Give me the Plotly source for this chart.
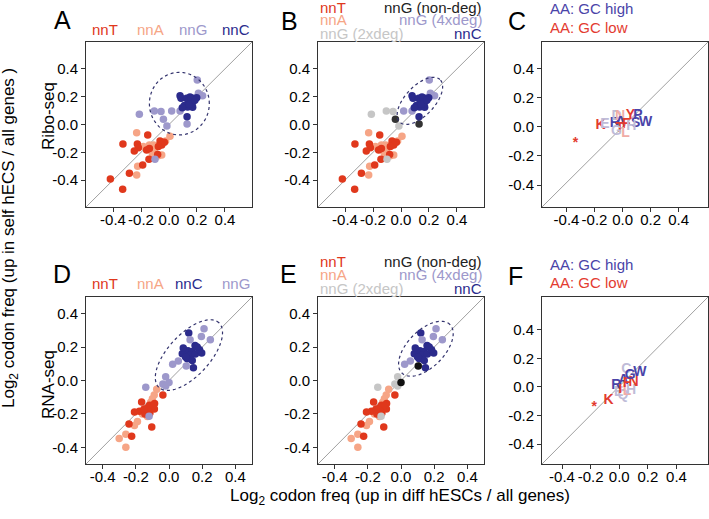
import numpy as np
import plotly.graph_objects as go

W, H = 709, 519
FONT = "Liberation Sans, Arial, Helvetica, sans-serif"

# ---------------- colours ----------------
C_T = "#e0381c"
C_A = "#f6a586"
C_G = "#9d98cb"
C_C = "#2b2b8c"
C_ND = "#333333"
C_2X = "#c6c6c6"
C_HIGH = "#4a44a8"
C_LOW = "#e33b30"
C_HIGH_L = "#bfbcd8"
C_LOW_L = "#f0aca6"

# ---------------- Ribo-seq data (panels A, B) ----------------
ribo_nnT_x = [-0.152, -0.329, -0.226, -0.219, -0.248, -0.160, -0.140, -0.064, -0.033, -0.052, -0.076, -0.081, -0.143, -0.188, -0.283, -0.419, -0.331]
ribo_nnT_y = [-0.076, -0.140, -0.140, -0.167, -0.190, -0.183, -0.172, -0.119, -0.128, -0.147, -0.159, -0.215, -0.250, -0.291, -0.351, -0.392, -0.466]
ribo_nnA_x = [-0.231, 0.007, -0.140, -0.110, -0.086, -0.183, -0.119, -0.105, -0.076, -0.052, -0.224, -0.231, -0.024]
ribo_nnA_y = [-0.060, -0.084, -0.147, -0.147, -0.152, -0.159, -0.207, -0.190, -0.224, -0.219, -0.300, -0.363, -0.119]
ribo_nnG4_x = [0.202, 0.210, 0.240, 0.019, 0.079]
ribo_nnG4_y = [0.320, 0.224, 0.207, 0.097, 0.097]
ribo_nnGnd_x = [-0.040, 0.129]
ribo_nnGnd_y = [0.037, 0.004]
ribo_nnG2_x = [-0.212, -0.105, -0.057, -0.015, -0.100]
ribo_nnG2_y = [0.073, 0.097, 0.093, -0.010, -0.250]
ribo_nnC_x = [0.079, 0.086, 0.126, 0.150, 0.174, 0.198, 0.138, 0.169, 0.110, 0.133, 0.169, 0.095, 0.129, 0.157, 0.145, 0.185]
ribo_nnC_y = [0.207, 0.188, 0.188, 0.198, 0.188, 0.193, 0.164, 0.160, 0.136, 0.126, 0.124, 0.120, 0.056, 0.183, 0.145, 0.175]

# ---------------- RNA-seq data (panels D, E) ----------------
rna_nnT_x = [-0.037, -0.165, -0.087, -0.117, -0.178, -0.208, -0.135, -0.115, -0.088, -0.145, -0.125, -0.241, -0.104, -0.225, -0.095, -0.150]
rna_nnT_y = [-0.087, -0.128, -0.138, -0.148, -0.184, -0.188, -0.180, -0.195, -0.170, -0.200, -0.160, -0.260, -0.278, -0.334, -0.150, -0.170]
rna_nnA_x = [-0.074, -0.089, -0.300, -0.260, -0.260, -0.190, -0.208, -0.160, -0.130, -0.110, -0.140, -0.100]
rna_nnA_y = [-0.053, -0.087, -0.348, -0.322, -0.400, -0.245, -0.270, -0.200, -0.215, -0.130, -0.170, -0.110]
rna_nnG4_x = [0.211, 0.195, 0.249, 0.127, 0.056, 0.022]
rna_nnG4_y = [0.310, 0.264, 0.244, 0.244, 0.117, 0.097]
rna_nnGnd_x = [0.104, 0.000]
rna_nnGnd_y = [0.087, -0.012]
rna_nnG2_x = [-0.020, -0.037, -0.020, -0.140, -0.120]
rna_nnG2_y = [0.023, -0.021, -0.033, -0.041, -0.214]
rna_nnC_x = [0.119, 0.157, 0.096, 0.080, 0.114, 0.139, 0.129, 0.159, 0.184, 0.197, 0.110, 0.140, 0.100, 0.147, 0.086, 0.170]
rna_nnC_y = [0.284, 0.210, 0.174, 0.160, 0.178, 0.174, 0.154, 0.158, 0.184, 0.164, 0.130, 0.120, 0.140, 0.077, 0.194, 0.200]

# ---------------- amino-acid data (panels C, F) ----------------
ribo_aa = ["*", "K", "E", "R", "D", "N", "A", "T", "F", "Y", "P", "S", "W", "G", "L", "H"]
ribo_aa_x = [-0.336, -0.157, -0.126, -0.055, -0.043, -0.018, -0.014, -0.019, 0.026, 0.057, 0.109, 0.093, 0.164, -0.043, 0.021, 0.062]
ribo_aa_y = [-0.114, 0.005, 0.012, 0.023, 0.073, 0.073, 0.027, -0.011, 0.012, 0.080, 0.080, 0.023, 0.027, -0.034, -0.050, 0.000]
ribo_aa_grp = ["low", "low", "high_l", "high", "high_l", "low_l", "high", "low", "low", "low", "high", "high", "high", "high_l", "low_l", "high_l"]

rna_aa = ["*", "K", "E", "Q", "L", "H", "R", "I", "A", "F", "N", "C", "G", "W"]
rna_aa_x = [-0.175, -0.075, -0.005, 0.026, 0.054, 0.082, -0.021, 0.007, 0.030, 0.054, 0.100, 0.049, 0.077, 0.143]
rna_aa_y = [-0.144, -0.093, -0.042, -0.058, -0.035, -0.023, 0.012, -0.018, 0.047, 0.024, 0.028, 0.122, 0.082, 0.098]
rna_aa_grp = ["low", "low", "high_l", "high_l", "low_l", "high_l", "high", "low", "high", "low", "low", "high_l", "high", "high"]

GRP_COL = {"high": C_HIGH, "low": C_LOW, "high_l": C_HIGH_L, "low_l": C_LOW_L}

TICKS = [-0.4, -0.2, 0.0, 0.2, 0.4]
TICKTEXT = ["-0.4", "-0.2", "0.0", "0.2", "0.4"]

# ---------------- layout geometry (pixels) ----------------
boxes = {
    1: (86, 252, 42, 207), 2: (318, 484, 42, 207), 3: (542, 708, 42, 207),
    4: (86, 252, 297, 464), 5: (318, 484, 297, 464), 6: (542, 708, 297, 464),
}
ranges = {
    1: ([-0.593, 0.593], [-0.593, 0.593]),
    2: ([-0.593, 0.593], [-0.593, 0.593]),
    3: ([-0.575, 0.61], [-0.55, 0.58]),
    4: ([-0.5, 0.5], [-0.5, 0.5]),
    5: ([-0.5, 0.5], [-0.5, 0.5]),
    6: ([-0.54, 0.62], [-0.54, 0.63]),
}


def fx(p):
    return p / W


def fy(p):
    return 1 - p / H


fig = go.Figure()
layout = dict(width=W, height=H, margin=dict(l=0, r=0, t=0, b=0),
              paper_bgcolor="white", plot_bgcolor="white", showlegend=False,
              hovermode=False,
              font=dict(family=FONT, color="black"))
shapes = []
annotations = []

for k, (x0, x1, y0, y1) in boxes.items():
    sfx = "" if k == 1 else str(k)
    common = dict(showline=True, mirror=True, linecolor="#333333", linewidth=1,
                  ticks="outside", ticklen=4, tickcolor="#333333", tickwidth=1,
                  tickvals=TICKS, ticktext=TICKTEXT, showgrid=False, zeroline=False,
                  tickangle=0,
                  tickfont=dict(size=15, family=FONT, color="black"), fixedrange=True)
    layout["xaxis" + sfx] = dict(domain=[fx(x0), fx(x1)], range=ranges[k][0],
                                 anchor="y" + sfx, ticklabelstandoff=-5, **common)
    layout["yaxis" + sfx] = dict(domain=[fy(y1), fy(y0)], range=ranges[k][1],
                                 anchor="x" + sfx, **common)
    xr, yr = ranges[k]
    shapes.append(dict(type="line", xref="x" + sfx, yref="y" + sfx,
                       x0=xr[0], y0=yr[0], x1=xr[1], y1=yr[1],
                       line=dict(color="#a0a0a0", width=1), layer="below"))


def dots(xs, ys, color, k):
    sfx = "" if k == 1 else str(k)
    fig.add_trace(go.Scatter(x=xs, y=ys, mode="markers", xaxis="x" + sfx, yaxis="y" + sfx,
                             marker=dict(size=7.5, color=color, line=dict(width=0)),
                             hoverinfo="skip"))


# Panel A
dots(ribo_nnA_x, ribo_nnA_y, C_A, 1)
dots(ribo_nnT_x, ribo_nnT_y, C_T, 1)
dots(ribo_nnG4_x + ribo_nnGnd_x + ribo_nnG2_x, ribo_nnG4_y + ribo_nnGnd_y + ribo_nnG2_y, C_G, 1)
dots(ribo_nnC_x, ribo_nnC_y, C_C, 1)
# Panel B
dots(ribo_nnA_x, ribo_nnA_y, C_A, 2)
dots(ribo_nnT_x, ribo_nnT_y, C_T, 2)
dots(ribo_nnG2_x, ribo_nnG2_y, C_2X, 2)
dots(ribo_nnG4_x, ribo_nnG4_y, C_G, 2)
dots(ribo_nnGnd_x, ribo_nnGnd_y, C_ND, 2)
dots(ribo_nnC_x, ribo_nnC_y, C_C, 2)
# Panel D
dots(rna_nnA_x, rna_nnA_y, C_A, 4)
dots(rna_nnT_x, rna_nnT_y, C_T, 4)
dots(rna_nnC_x, rna_nnC_y, C_C, 4)
dots(rna_nnG4_x + rna_nnGnd_x + rna_nnG2_x, rna_nnG4_y + rna_nnGnd_y + rna_nnG2_y, C_G, 4)
# Panel E
dots(rna_nnA_x, rna_nnA_y, C_A, 5)
dots(rna_nnT_x, rna_nnT_y, C_T, 5)
dots(rna_nnG2_x, rna_nnG2_y, C_2X, 5)
dots(rna_nnC_x, rna_nnC_y, C_C, 5)
dots(rna_nnG4_x, rna_nnG4_y, C_G, 5)
dots(rna_nnGnd_x, rna_nnGnd_y, "#111111", 5)


def letters(labels, xs, ys, grps, k):
    sfx = str(k)
    fig.add_trace(go.Scatter(x=xs, y=ys, mode="text", text=labels, xaxis="x" + sfx, yaxis="y" + sfx,
                             textposition="middle center",
                             textfont=dict(size=14, family=FONT, weight="bold",
                                           color=[GRP_COL[g] for g in grps]),
                             hoverinfo="skip"))


letters(ribo_aa, ribo_aa_x, ribo_aa_y, ribo_aa_grp, 3)
letters(rna_aa, rna_aa_x, rna_aa_y, rna_aa_grp, 6)


# ellipses (dotted outlines)
def ellipse_path(cx, cy, a, b, ang_deg, n=80):
    t = np.linspace(0, 2 * np.pi, n)
    th = np.deg2rad(ang_deg)
    xs = cx + a * np.cos(t) * np.cos(th) - b * np.sin(t) * np.sin(th)
    ys = cy + a * np.cos(t) * np.sin(th) + b * np.sin(t) * np.cos(th)
    return "M " + " L ".join(f"{x:.4f},{y:.4f}" for x, y in zip(xs, ys)) + " Z"


ELL = dict(color="#34346e", width=1.2, dash="dot")
shapes.append(dict(type="path", xref="x", yref="y", path=ellipse_path(0.074, 0.15, 0.214, 0.225, 0), line=ELL))
shapes.append(dict(type="path", xref="x2", yref="y2", path=ellipse_path(0.135, 0.17, 0.21, 0.105, 47), line=ELL))
shapes.append(dict(type="path", xref="x4", yref="y4", path=ellipse_path(0.12, 0.152, 0.265, 0.125, 47), line=ELL))
shapes.append(dict(type="path", xref="x5", yref="y5", path=ellipse_path(0.15, 0.19, 0.205, 0.11, 45), line=ELL))


def ann(text, xp, yp, size, color="black", xanchor="center", angle=0):
    annotations.append(dict(text=text, x=fx(xp), y=fy(yp), xref="paper", yref="paper",
                            showarrow=False, xanchor=xanchor, yanchor="middle",
                            textangle=angle, font=dict(size=size, color=color, family=FONT)))


# panel letters
for lab, xp, yp in [("A", 62, 20), ("B", 289, 20.5), ("C", 516.7, 21),
                    ("D", 62, 274), ("E", 288.3, 274), ("F", 515, 275.5)]:
    ann(lab, xp, yp, 25)

# legends A and D
for lab, col, xp in [("nnT", C_T, 105), ("nnA", C_A, 150), ("nnG", C_G, 192.5), ("nnC", C_C, 236)]:
    ann(lab, xp, 30, 15, col)
for lab, col, xp in [("nnT", C_T, 105), ("nnA", C_A, 150), ("nnC", C_C, 189.5), ("nnG", C_G, 236)]:
    ann(lab, xp, 283, 15, col)

# legends B and E
for base in (0, 255):
    top = 7 if base == 0 else 6 + base
    ann("nnT", 318, top, 15, C_T, "left")
    ann("nnA", 318, 19.7 + base, 15, C_A, "left")
    ann("nnG (2xdeg)", 318, 33.3 + base, 15, C_2X, "left")
    ann("nnG (non-deg)", 484, top, 15, "#222222", "right")
    ann("nnG (4xdeg)", 484, 19.7 + base, 15, C_G, "right")
    ann("nnC", 484, 33.3 + base, 15, C_C, "right")

# legends C and F
ann("AA: GC high", 548, 8.7, 15, C_HIGH, "left")
ann("AA: GC low", 548, 27.5, 15, C_LOW, "left")
ann("AA: GC high", 548, 264, 15, C_HIGH, "left")
ann("AA: GC low", 548, 282.5, 15, C_LOW, "left")

# row titles
ann("Ribo-seq", 48, 116, 17, angle=-90)
ann("RNA-seq", 48, 385, 17, angle=-90)

# global axis titles
ann("Log<sub>2</sub> codon freq (up in self hECS / all genes )", 10, 238, 17, angle=-90)
ann("Log<sub>2</sub> codon freq (up in diff hESCs / all genes)", 400, 497, 17)

layout["shapes"] = shapes
layout["annotations"] = annotations
fig.update_layout(**layout)
fig.write_html("out.html",
               config={"displayModeBar": False, "staticPlot": True},
               post_script="document.body.style.margin='0';document.body.style.overflow='hidden';")
